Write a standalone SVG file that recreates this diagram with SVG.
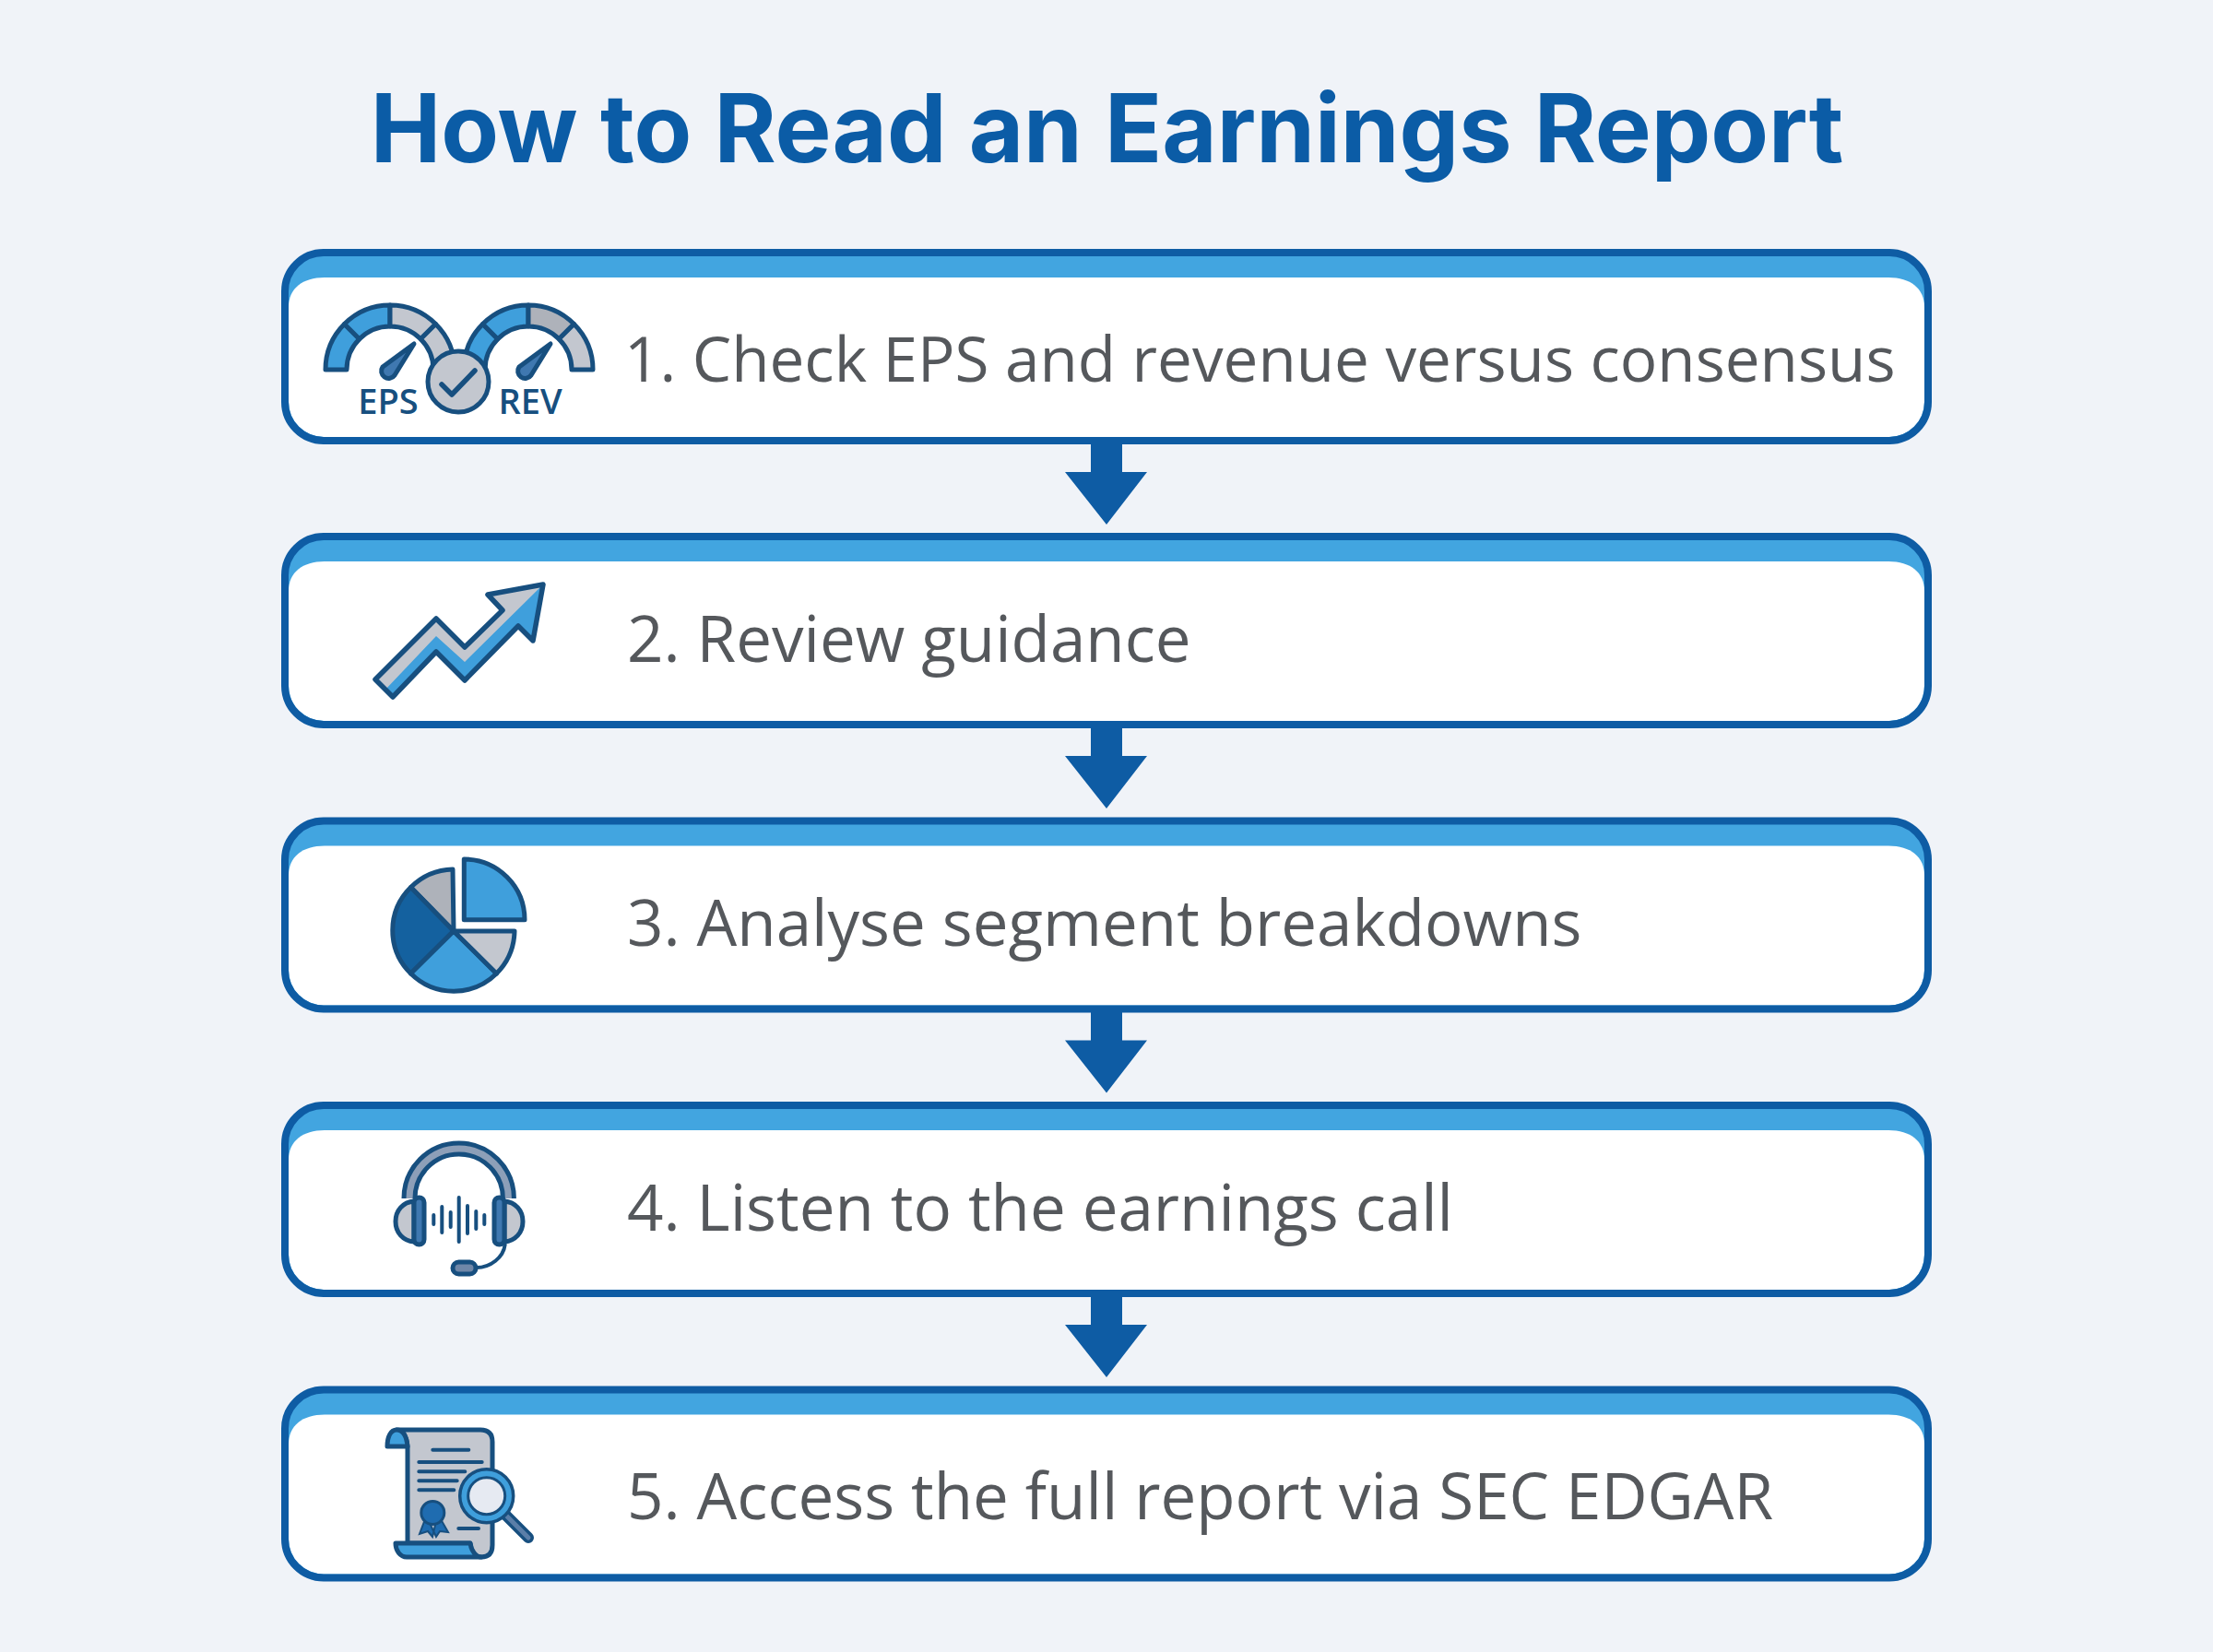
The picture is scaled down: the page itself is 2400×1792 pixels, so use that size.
<svg xmlns="http://www.w3.org/2000/svg" xmlns:xlink="http://www.w3.org/1999/xlink" width="2400" height="1792" viewBox="0 0 2400 1792">
<style>
.title{font-family:"Inter","Liberation Sans",sans-serif;font-weight:700;font-size:102.4px;fill:#0b5ca6}
.lab{font-family:"Open Sans","Noto Sans",sans-serif;font-size:69.1px;fill:#55585c}
.ic{font-family:"Open Sans","Noto Sans",sans-serif;font-weight:600;font-size:38px;fill:#174f7f}
.o{stroke:#174f7f;stroke-width:5;stroke-linejoin:round;stroke-linecap:round}
.b{fill:#3f9fdc}.g{fill:#c3c7cf}.g2{fill:#aeb2ba}
.dk{fill:#14619f}.m{fill:#3f78b0}
.ln{fill:none;stroke:#174f7f;stroke-width:5.5;stroke-linecap:round;stroke-linejoin:round}
.arr{fill:#0e5ca4}
</style>
<defs>
<g id="card">
<rect x="309" y="274" width="1782" height="204" rx="42" fill="#42a5e0"/>
<path d="M313,333 C313,313 328,301 352,301 H2048 C2072,301 2087,313 2087,333 V436 A38,38 0 0 1 2049,474 H351 A38,38 0 0 1 313,436 Z" fill="#fff"/>
<rect x="309" y="274" width="1782" height="204" rx="42" fill="none" stroke="#0e5ca4" stroke-width="8"/>
</g>
<polygon id="down" points="1183,474 1217,474 1217,512 1244,512 1200,569 1155,512 1183,512"/>
</defs>
<rect width="2400" height="1792" fill="#f0f3f8"/>
<text class="title" x="1200.5" y="176" text-anchor="middle">How to Read an Earnings Report</text>

<g id="connectors" class="arr">
<use href="#down"/>
<use href="#down" y="308"/>
<use href="#down" y="616.5"/>
<use href="#down" y="925"/>
</g>

<g id="step1">
<use href="#card"/>
<g id="icon-gauges">
<path class="o b" d="M353,401 A70,70 0 0 1 373.5,351.5 L389.8,367.8 A47,47 0 0 0 376,401 Z"/>
<path class="o b" d="M373.5,351.5 A70,70 0 0 1 423,331 V354 A47,47 0 0 0 389.8,367.8 Z"/>
<path class="o g" d="M423,331 A70,70 0 0 1 472.5,351.5 L456.2,367.8 A47,47 0 0 0 423,354 Z"/>
<path class="o g" d="M472.5,351.5 A70,70 0 0 1 493,401 H470 A47,47 0 0 0 456.2,367.8 Z"/>
<path class="o m" d="M449,373 L428,407 A7.5,7.5 0 0 1 415,398 Z"/>
<path class="o b" d="M503,401 A70,70 0 0 1 523.5,351.5 L539.8,367.8 A47,47 0 0 0 526,401 Z"/>
<path class="o b" d="M523.5,351.5 A70,70 0 0 1 573,331 V354 A47,47 0 0 0 539.8,367.8 Z"/>
<path class="o g2" d="M573,331 A70,70 0 0 1 622.5,351.5 L606.2,367.8 A47,47 0 0 0 573,354 Z"/>
<path class="o g" d="M622.5,351.5 A70,70 0 0 1 643,401 H620 A47,47 0 0 0 606.2,367.8 Z"/>
<path class="o m" d="M597,373 L576,407 A7.5,7.5 0 0 1 563,398 Z"/>
<circle class="o g" cx="497" cy="414" r="33"/>
<polyline class="ln" points="479,417 490,428 515,402"/>
<text class="ic" x="421" y="449" text-anchor="middle">EPS</text>
<text class="ic" x="575" y="449" text-anchor="middle">REV</text>
</g>
<text class="lab" x="677" y="414" style="font-size:67.4px">1. Check EPS and revenue versus consensus</text>
</g>

<g id="step2">
<use href="#card" y="308"/>
<g id="icon-growth">
<polygon class="b" points="407,737 473,671 504,702 545,662 529,645 589,634 578,695 562,679 504,738 473,707 426,756"/>
<polygon class="g" points="407,737 473,671 504,702 545,662 529,645 589,634 504,718 473,690 418,748"/>
<polygon class="ln" points="407,737 473,671 504,702 545,662 529,645 589,634 578,695 562,679 504,738 473,707 426,756"/>
</g>
<text class="lab" x="680" y="718">2. Review guidance</text>
</g>

<g id="step3">
<use href="#card" y="616.5"/>
<g id="icon-pie">
<path class="o g2" d="M492,1010 L445.5,962.5 A67,67 0 0 1 491,943 Z"/>
<path class="o dk" d="M492,1010 L445.5,1056 A67,66 0 0 1 445.5,962.5 Z"/>
<path class="o b" d="M492,1010 L538.5,1056 A66,66 0 0 1 445.5,1056 Z"/>
<path class="o g" d="M492,1010 H558 A67,67 0 0 1 538.5,1056 Z"/>
<path class="o b" d="M503.3,997.7 V932 A65.7,65.7 0 0 1 569,997.7 Z"/>
</g>
<text class="lab" x="680" y="1026">3. Analyse segment breakdowns</text>
</g>

<g id="step4">
<use href="#card" y="925"/>
<g id="icon-headset">
<path d="M444,1300 A53.7,54 0 0 1 551.4,1300" fill="none" stroke="#174f7f" stroke-width="17"/>
<path d="M444,1300 A53.7,54 0 0 1 551.4,1300" fill="none" stroke="#8d9fb8" stroke-width="7"/>
<path class="o g" d="M449,1303 C437,1304 429,1313 429,1325 C429,1337 437,1346 449,1347 Z"/>
<rect class="o m" x="449" y="1299" width="11" height="51" rx="5.5"/>
<path class="o g" d="M547,1303 C559,1304 567,1313 567,1325 C567,1337 559,1346 547,1347 Z"/>
<rect class="o m" x="536" y="1299" width="11" height="51" rx="5.5"/>
<path class="ln" d="M470.3,1318 v10 M479.3,1309 v28 M488.7,1315 v16 M497.7,1299 v48 M507,1308 v30 M516.3,1314 v19 M525.3,1318 v10" style="stroke-width:4"/>
<path class="ln" d="M547.7,1350 C546,1364 532,1375 516.7,1375" style="stroke-width:4"/>
<rect class="o" x="491" y="1369" width="25" height="13" rx="6.5" fill="#6f87a8"/>
</g>
<text class="lab" x="680" y="1335">4. Listen to the earnings call</text>
</g>

<g id="step5">
<use href="#card" y="1233.5"/>
<g id="icon-report">
<path class="o g" d="M430,1551 H521 Q534,1551 534,1564 V1676 Q534,1689 522,1689 C514,1689 511,1682 510,1674 L442,1674 V1569 C441,1558 437,1552 430,1551 Z"/>
<path class="o b" d="M420,1569 C420,1558 424,1551 430,1551 C437,1551 441,1558 442,1569 Z"/>
<path class="o b" d="M429,1674 H510 C511,1682 516,1689 522,1689 H441 C434,1689 429,1682 429,1674 Z"/>
<path class="ln" d="M469.3,1572.7 H508.3 M454.3,1586 H522.7 M454.3,1596.3 H504.3 M454.3,1606.3 H495.7 M454.3,1616.3 H492.3 M497.3,1658 H519" style="stroke-width:4"/>
<path fill="#1f6cb0" stroke="#174f7f" stroke-width="2" d="M461,1648 L455,1664 L464,1661 L469,1667 L473,1650 Z M478,1648 L486,1662 L477,1661 L473,1667 L465,1650 Z"/>
<circle cx="469.3" cy="1641" r="12.5" fill="#1f6cb0" stroke="#174f7f" stroke-width="3"/>
<line x1="548" y1="1643" x2="573" y2="1668" stroke="#174f7f" stroke-width="12" stroke-linecap="round"/>
<line x1="548" y1="1643" x2="573" y2="1668" stroke="#5b7ea8" stroke-width="5" stroke-linecap="round"/>
<circle cx="527.7" cy="1622.7" r="24.5" fill="#e6eaf2" stroke="#3f9fdc" stroke-width="9"/>
<circle cx="527.7" cy="1622.7" r="29" fill="none" stroke="#174f7f" stroke-width="3.5"/>
<circle cx="527.7" cy="1622.7" r="20" fill="none" stroke="#174f7f" stroke-width="3"/>
</g>
<text class="lab" x="680" y="1648">5. Access the full report via SEC EDGAR</text>
</g>
</svg>
